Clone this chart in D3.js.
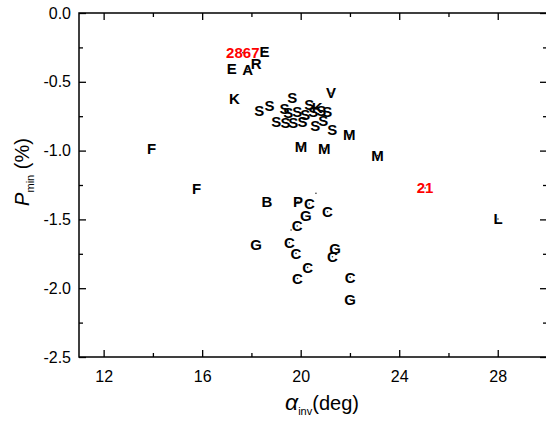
<!DOCTYPE html>
<html>
<head>
<meta charset="utf-8">
<script src="https://cdn.jsdelivr.net/npm/d3@7"></script>
<style>
body { margin: 0; background: #fff; }
text { font-family: "Liberation Sans", Arial, sans-serif; }
</style>
</head>
<body>
<div id="chart"></div>
<script>
// point labels and values
var labels = ["E", "2867", "E", "A", "R", "K", "V",
    "S", "S", "S", "S", "S", "S", "S", "S", "K", "S", "S",
    "S", "S", "S", "S", "S", "S", "S", "S",
    "M", "M", "M", "M", "F", "F",
    "B", "P", "C", "G", "C", "C", "G", "C", "C", "G", "C", "C", "C", "C", "G",
    "21", "L", "", ""];
var alphaInv = [18.53, 17.65, 17.20, 17.85, 18.19, 17.31, 21.23,
    18.32, 18.73, 19.34, 19.66, 19.50, 19.86, 20.35, 20.51, 20.67, 20.84, 21.08,
    19.01, 19.38, 19.70, 20.07, 20.59, 20.92, 21.28, 20.19,
    21.97, 20.01, 20.96, 23.12, 13.95, 15.77,
    18.63, 19.89, 20.35, 20.21, 21.09, 19.86, 18.19, 19.54, 19.81, 21.40, 21.29, 20.28, 19.87, 22.01, 22.01,
    25.05, 28.01, 20.62, 19.61];
var pMin = [-0.277, -0.289, -0.403, -0.410, -0.369, -0.624, -0.582,
    -0.711, -0.675, -0.697, -0.616, -0.726, -0.718, -0.667, -0.718, -0.689, -0.711, -0.718,
    -0.791, -0.798, -0.798, -0.791, -0.820, -0.784, -0.849, -0.740,
    -0.886, -0.971, -0.983, -1.036, -0.988, -1.279,
    -1.371, -1.371, -1.388, -1.475, -1.444, -1.548, -1.686, -1.670, -1.747, -1.711, -1.771, -1.849, -1.929, -1.921, -2.082,
    -1.272, -1.497, -1.31, -1.577];
var redLabels = ["2867", "21"];

var xMajor = [12, 16, 20, 24, 28];
var xMinor = [14, 18, 22, 26];
var yMajor = [0, -0.5, -1.0, -1.5, -2.0, -2.5];
var yMinor = [-0.25, -0.75, -1.25, -1.75, -2.25];

var width = 546, height = 423;
var mLeft = 79, mTop = 13, mRight = 547, mBottom = 357;

var svg = d3.select("#chart").append("svg")
    .attr("width", width)
    .attr("height", height)

var x = d3.scaleLinear().domain([11, 30]).range([mLeft, mRight])
var y = d3.scaleLinear().domain([-2.5, 0]).range([mBottom, mTop])

var fmt = function(d){ return d3.format(".1f")(d).replace("\u2212", "-") }

function styleAxis(g){
    g.select(".domain").remove()
    g.selectAll("line").attr("stroke", "#000").attr("stroke-width", 1.3)
    g.selectAll("text").attr("fill", "#000").style("font-size", "16px")
}

// bottom
svg.append("g").attr("transform", "translate(0," + mBottom + ")")
    .call(d3.axisBottom(x).tickValues(xMajor).tickSizeInner(-7).tickSizeOuter(0).tickPadding(14))
    .call(styleAxis)
svg.append("g").attr("transform", "translate(0," + mBottom + ")")
    .call(d3.axisBottom(x).tickValues(xMinor).tickSizeInner(-4).tickSizeOuter(0).tickFormat(""))
    .call(styleAxis)
// top
svg.append("g").attr("transform", "translate(0," + mTop + ")")
    .call(d3.axisTop(x).tickValues(xMajor).tickSizeInner(-7).tickSizeOuter(0).tickFormat(""))
    .call(styleAxis)
svg.append("g").attr("transform", "translate(0," + mTop + ")")
    .call(d3.axisTop(x).tickValues(xMinor).tickSizeInner(-4).tickSizeOuter(0).tickFormat(""))
    .call(styleAxis)
// left
svg.append("g").attr("transform", "translate(" + mLeft + ",0)")
    .call(d3.axisLeft(y).tickValues(yMajor).tickSizeInner(-7).tickSizeOuter(0).tickPadding(8).tickFormat(fmt))
    .call(styleAxis)
svg.append("g").attr("transform", "translate(" + mLeft + ",0)")
    .call(d3.axisLeft(y).tickValues(yMinor).tickSizeInner(-4).tickSizeOuter(0).tickFormat(""))
    .call(styleAxis)
// right
svg.append("g").attr("transform", "translate(" + (mRight - 1) + ",0)")
    .call(d3.axisRight(y).tickValues(yMajor).tickSizeInner(-6).tickSizeOuter(0).tickFormat(""))
    .call(styleAxis)
svg.append("g").attr("transform", "translate(" + (mRight - 1) + ",0)")
    .call(d3.axisRight(y).tickValues(yMinor).tickSizeInner(-3).tickSizeOuter(0).tickFormat(""))
    .call(styleAxis)

// frame
svg.append("rect")
    .attr("x", mLeft).attr("y", mTop)
    .attr("width", mRight - mLeft).attr("height", mBottom - mTop)
    .attr("fill", "none").attr("stroke", "#000").attr("stroke-width", 1.5)

var pts = labels.map(function(l, i){ return {label: l, a: alphaInv[i], p: pMin[i]} })

svg.selectAll("circle.pt").data(pts).enter()
    .append("circle").attr("class", "pt")
    .attr("cx", function(d){ return x(d.a) })
    .attr("cy", function(d){ return y(d.p) })
    .attr("r", 0.8)
    .attr("fill", "#333")

svg.selectAll("text.lab").data(pts).enter()
    .append("text").attr("class", "lab")
    .attr("x", function(d){ return x(d.a) })
    .attr("y", function(d){ return y(d.p) })
    .attr("text-anchor", "middle")
    .attr("dy", "0.36em")
    .style("font-size", "15px")
    .style("font-weight", "bold")
    .attr("fill", function(d){ return redLabels.indexOf(d.label) >= 0 ? "#ff0000" : "#000" })
    .text(function(d){ return d.label })

// axis titles
var xt = svg.append("text")
    .attr("x", 322).attr("y", 410)
    .attr("text-anchor", "middle")
    .style("font-size", "20px")
xt.append("tspan").text("\u03b1").style("font-style", "italic").style("font-size", "23px")
xt.append("tspan").text("inv").style("font-size", "11px").attr("dy", 5)
xt.append("tspan").text("(deg)").attr("dy", -5)

var yt = svg.append("text")
    .attr("transform", "translate(29," + 172 + ") rotate(-90)")
    .attr("text-anchor", "middle")
    .style("font-size", "20px")
yt.append("tspan").text("P").style("font-style", "italic")
yt.append("tspan").text("min").style("font-size", "11px").attr("dy", 5)
yt.append("tspan").text(" (%)").attr("dy", -5)
</script>
</body>
</html>
